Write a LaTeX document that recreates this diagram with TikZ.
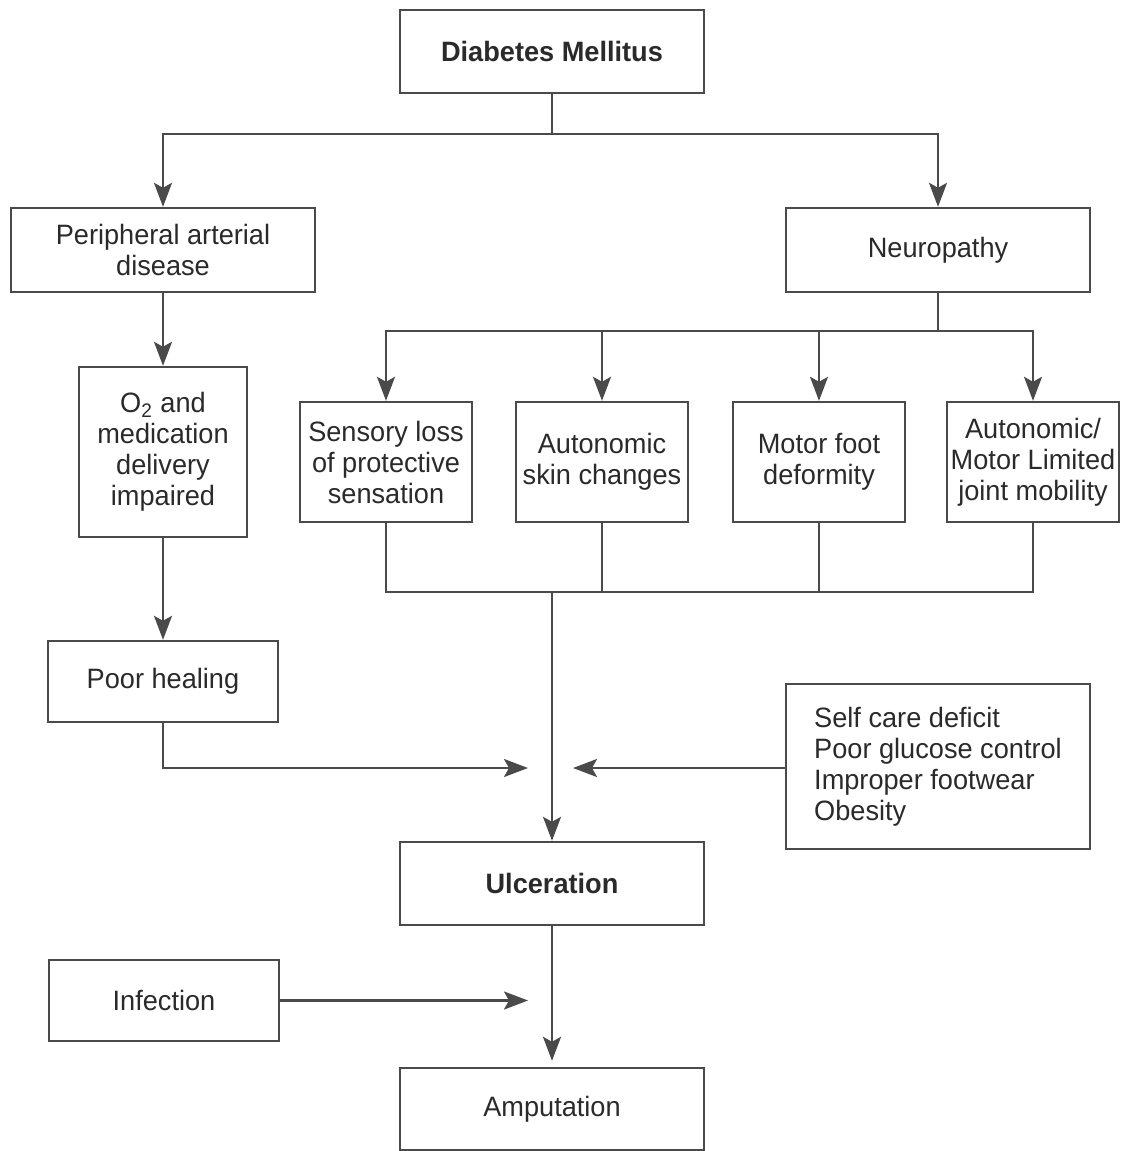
\documentclass[tikz,border=0pt]{standalone}
\usepackage{fontspec}
\setmainfont[FakeStretch=0.97]{Liberation Sans}
\usetikzlibrary{arrows.meta}
\definecolor{linegray}{HTML}{4A4A4A}
\definecolor{textgray}{HTML}{2A2A2A}
\tikzset{
  box/.style={draw=linegray, line width=1.2pt, text=textgray, align=center,
    inner sep=0pt, font=\fontsize{14}{15.5}\selectfont},
  flow/.style={draw=linegray, line width=1.2pt,
    -{Stealth[length=12pt,width=9pt,inset=2.5pt]}},
  link/.style={draw=linegray, line width=1.2pt},
}
\begin{document}
\begin{tikzpicture}[x=0.5pt, y=-0.5pt]
  \useasboundingbox (0,0) rectangle (1123,1151);
  % top level
  \node[box, minimum width=152pt, minimum height=41.5pt, font=\fontsize{14}{15.5}\selectfont\bfseries] (dm) at (552,51.5) {Diabetes Mellitus};
  \node[box, minimum width=152pt, minimum height=42pt] (pad) at (163,250) {Peripheral arterial\\disease};
  \node[box, minimum width=152pt, minimum height=42pt] (neuro) at (938,250) {Neuropathy};
  % neuropathy branches
  \node[box, minimum width=86pt, minimum height=60pt] (sens) at (386,462) {Sensory loss\\of protective\\sensation};
  \node[box, minimum width=86pt, minimum height=60pt] (skin) at (602,462) {Autonomic\\skin changes};
  \node[box, minimum width=86pt, minimum height=60pt] (motor) at (819,462) {Motor foot\\deformity};
  \node[box, minimum width=86pt, minimum height=60pt] (joint) at (1033,462) {Autonomic/\\Motor Limited\\joint mobility};
  % left column
  \node[box, minimum width=84pt, minimum height=85pt] (otwo) at (163,452) {O\textsubscript{2} and\\medication\\delivery\\impaired};
  \node[box, minimum width=115pt, minimum height=40.5pt] (heal) at (163,681.5) {Poor healing};
  \node[box, minimum width=152pt, minimum height=82.5pt, align=left] (self) at (938,766.5) {Self care deficit\\Poor glucose control\\Improper footwear\\Obesity};
  % bottom
  \node[box, minimum width=152pt, minimum height=41.5pt, font=\fontsize{14}{15.5}\selectfont\bfseries] (ulc) at (552,883.5) {Ulceration};
  \node[box, minimum width=115pt, minimum height=40.5pt] (inf) at (164,1000.5) {Infection};
  \node[box, minimum width=152pt, minimum height=41pt] (amp) at (552,1109) {Amputation};

  \coordinate (bus) at (552,592);
  \coordinate (hin) at (528,768);
  \coordinate (sin) at (573,768);
  \coordinate (iin) at (528,1000.5);

  \draw[flow] (dm.south) -- ++(0,40) -| (pad.north);
  \draw[flow] (dm.south) -- ++(0,40) -| (neuro.north);
  \foreach \n in {sens,skin,motor,joint}
    \draw[flow] (neuro.south) -- ++(0,38) -| (\n.north);
  \foreach \n in {sens,skin,motor,joint}
    \draw[link] (\n.south) |- (bus);
  \draw[flow] (bus) -- (ulc.north);
  \draw[flow] (pad.south) -- (otwo.north);
  \draw[flow] (otwo.south) -- (heal.north);
  \draw[flow] (heal.south) |- (hin);
  \draw[flow] (self.west |- sin) -- (sin);
  \draw[flow] (inf.east) -- (iin);
  \draw[flow, shorten >=3pt] (ulc.south) -- (amp.north);
\end{tikzpicture}
\end{document}
